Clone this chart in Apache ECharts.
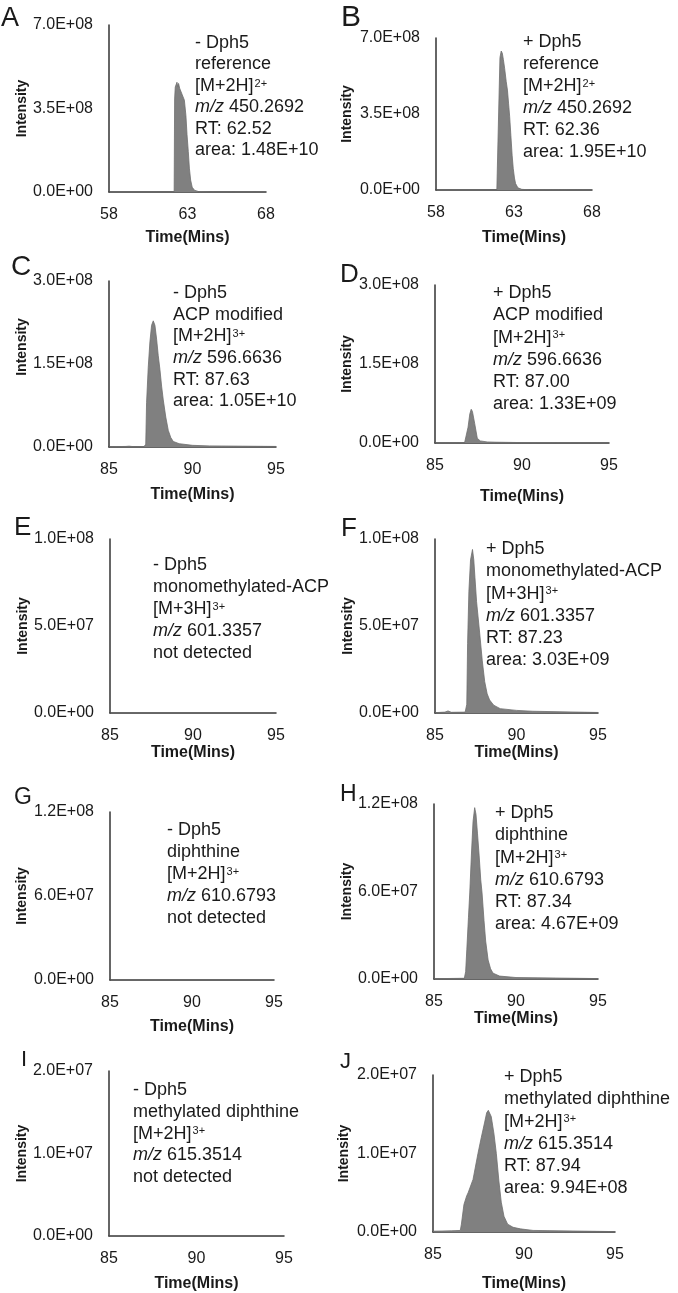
<!DOCTYPE html>
<html>
<head>
<meta charset="utf-8">
<script src="https://cdn.jsdelivr.net/npm/echarts@6/dist/echarts.min.js"></script>
<style>
html,body{margin:0;padding:0;background:#fff;}
#chart{width:678px;height:1293px;}
</style>
</head>
<body>
<div id="chart"></div>
<script>
// ---------------- DATA ----------------
const panelLetters = ['A','B','C','D','E','F','G','H','I','J'];
const xMin = [58,58,85,85,85,85,85,85,85,85];
const xMax = [68,68,95,95,95,95,95,95,95,95];
const xTickStep = 5;
const yMax = [7e8,7e8,3e8,3e8,1e8,1e8,1.2e8,1.2e8,2e7,2e7];
const yTickLabels = [
  ['0.0E+00','3.5E+08','7.0E+08'],
  ['0.0E+00','3.5E+08','7.0E+08'],
  ['0.0E+00','1.5E+08','3.0E+08'],
  ['0.0E+00','1.5E+08','3.0E+08'],
  ['0.0E+00','5.0E+07','1.0E+08'],
  ['0.0E+00','5.0E+07','1.0E+08'],
  ['0.0E+00','6.0E+07','1.2E+08'],
  ['0.0E+00','6.0E+07','1.2E+08'],
  ['0.0E+00','1.0E+07','2.0E+07'],
  ['0.0E+00','1.0E+07','2.0E+07']
];
const xTitle = 'Time(Mins)';
const yTitle = 'Intensity';

// A: - Dph5 reference
const timeA = [58,62.0,62.15,62.18,62.22,62.28,62.33,62.38,62.43,62.5,62.58,62.65,62.72,62.8,62.9,62.97,63.05,63.12,63.2,63.3,63.45,63.7,64.5,68];
const intA  = [0.002e8,0.003e8,0.02e8,3.9e8,4.4e8,4.45e8,4.6e8,4.4e8,4.55e8,4.35e8,4.3e8,4.1e8,4.05e8,3.85e8,3.2e8,2.4e8,1.7e8,1.0e8,0.5e8,0.2e8,0.07e8,0.02e8,0.005e8,0.002e8];
// B: + Dph5 reference
const timeB = [58,61.9,62.0,62.05,62.1,62.18,62.25,62.32,62.4,62.5,62.58,62.65,62.72,62.8,62.88,62.95,63.03,63.1,63.25,63.5,64.0,68];
const intB  = [0.002e8,0.003e8,0.03e8,4.6e8,6.1e8,6.4e8,6.3e8,6.0e8,5.6e8,5.0e8,4.6e8,4.0e8,3.4e8,2.5e8,1.6e8,1.0e8,0.55e8,0.3e8,0.1e8,0.03e8,0.008e8,0.002e8];
// C: - Dph5 ACP modified
const timeC = [85,86.0,86.2,86.5,87.1,87.2,87.25,87.35,87.45,87.55,87.65,87.75,87.85,87.95,88.05,88.15,88.25,88.4,88.55,88.7,88.85,89.2,90,91,93,95];
const intC  = [0.005e8,0.01e8,0.015e8,0.005e8,0.008e8,0.05e8,0.8e8,1.44e8,1.9e8,2.2e8,2.28e8,2.2e8,1.95e8,1.65e8,1.4e8,1.1e8,0.85e8,0.54e8,0.3e8,0.17e8,0.1e8,0.06e8,0.03e8,0.02e8,0.015e8,0.01e8];
// D: + Dph5 ACP modified
const timeD = [85,86.7,86.8,86.9,87.0,87.08,87.15,87.28,87.43,87.6,88.0,88.5,90,95];
const intD  = [0.003e8,0.005e8,0.03e8,0.3e8,0.55e8,0.64e8,0.6e8,0.37e8,0.09e8,0.04e8,0.02e8,0.015e8,0.008e8,0.003e8];
// E: - Dph5 monomethylated-ACP (not detected)
const timeE = [85,95];
const intE  = [0,0];
// F: + Dph5 monomethylated-ACP
const timeF = [85,85.6,85.8,86.0,86.85,86.95,87.0,87.08,87.18,87.3,87.38,87.45,87.55,87.74,87.9,88.05,88.2,88.35,88.6,89.0,90,91,95];
const intF  = [0.002e8,0.005e8,0.012e8,0.004e8,0.005e8,0.05e8,0.4e8,0.7e8,0.88e8,0.94e8,0.88e8,0.78e8,0.64e8,0.46e8,0.3e8,0.18e8,0.11e8,0.075e8,0.045e8,0.025e8,0.015e8,0.01e8,0.003e8];
// G: - Dph5 diphthine (not detected)
const timeG = [85,95];
const intG  = [0,0];
// H: + Dph5 diphthine
const timeH = [85,86.85,86.93,87.0,87.1,87.18,87.28,87.38,87.48,87.56,87.65,87.75,87.85,87.93,88.05,88.15,88.3,88.45,88.6,89.0,90,95];
const intH  = [0.002e8,0.005e8,0.05e8,0.2e8,0.42e8,0.59e8,0.85e8,1.08e8,1.175e8,1.13e8,1.0e8,0.85e8,0.68e8,0.59e8,0.4e8,0.26e8,0.13e8,0.07e8,0.04e8,0.02e8,0.01e8,0.003e8];
// I: - Dph5 methylated diphthine (not detected)
const timeI = [85,95];
const intI  = [0,0];
// J: + Dph5 methylated diphthine
const timeJ = [85,86.0,86.5,86.56,86.7,86.85,86.93,87.2,87.47,87.65,87.84,87.95,88.04,88.2,88.35,88.48,88.62,88.75,88.9,89.1,89.4,89.8,90.5,95];
const intJ  = [0.01e7,0.015e7,0.02e7,0.1e7,0.35e7,0.46e7,0.5e7,0.67e7,1.0e7,1.2e7,1.4e7,1.52e7,1.55e7,1.47e7,1.25e7,1.0e7,0.65e7,0.38e7,0.2e7,0.1e7,0.06e7,0.04e7,0.02e7,0.005e7];

const panelTimes = [timeA,timeB,timeC,timeD,timeE,timeF,timeG,timeH,timeI,timeJ];
const panelInts  = [intA,intB,intC,intD,intE,intF,intG,intH,intI,intJ];

const annotations = [
  ['- Dph5','reference','[M+2H]{sup|2+}','{it|m/z} 450.2692','RT: 62.52','area: 1.48E+10'],
  ['+ Dph5','reference','[M+2H]{sup|2+}','{it|m/z} 450.2692','RT: 62.36','area: 1.95E+10'],
  ['- Dph5','ACP modified','[M+2H]{sup|3+}','{it|m/z} 596.6636','RT: 87.63','area: 1.05E+10'],
  ['+ Dph5','ACP modified','[M+2H]{sup|3+}','{it|m/z} 596.6636','RT: 87.00','area: 1.33E+09'],
  ['- Dph5','monomethylated-ACP','[M+3H]{sup|3+}','{it|m/z} 601.3357','not detected'],
  ['+ Dph5','monomethylated-ACP','[M+3H]{sup|3+}','{it|m/z} 601.3357','RT: 87.23','area: 3.03E+09'],
  ['- Dph5','diphthine','[M+2H]{sup|3+}','{it|m/z} 610.6793','not detected'],
  ['+ Dph5','diphthine','[M+2H]{sup|3+}','{it|m/z} 610.6793','RT: 87.34','area: 4.67E+09'],
  ['- Dph5','methylated diphthine','[M+2H]{sup|3+}','{it|m/z} 615.3514','not detected'],
  ['+ Dph5','methylated diphthine','[M+2H]{sup|3+}','{it|m/z} 615.3514','RT: 87.94','area: 9.94E+08']
];

// ---------------- LAYOUT ----------------
const FONT = "'Liberation Sans', Arial, Helvetica, sans-serif";
const TEXT = '#1a1a1a';
const AXIS = '#333333';
// grid: [left, top, width, height]
const gridBoxes = [
  [109,25,157,167],[436,38,156,152],
  [109,281,167,166],[435,285,174,158],
  [110,539,166,174],[435,539,163,174],
  [110,812,164,168],[434,804,164,175],
  [109,1071,175,166],[433,1075,182,158]
];
const xNameGap = [38,40,40,46,32,32,39,31,40,44];
const xNamePad = [0,20,0,0,0,0,0,0,0,0];
const yNameGap = [80,82,76,81,80,80,81,80,80,82];
const yNamePad = [0,0,34,0,0,0,0,0,0,0];
// letters: [x, yCenter, size]
const letterPos = [[1,19,27],[341,18,30],[11,267,28],[340,275,26],[14,528,26],[341,529,26],[14,798,23],[340,795,23],[21,1060,22],[340,1062,22]];
// annotations: [x, firstLineCenter, lineHeight]
const annoPos = [[195,43,21.4],[523,42,22],[173,293,21.7],[493,293,22.3],[153,565,22.1],[486,549,22.3],[167,830,22.1],[495,813,22.3],[133,1090,21.8],[504,1077,22.3]];

const grids=[], xAxes=[], yAxes=[], series=[], graphics=[];
for (let i=0;i<10;i++){
  const g = gridBoxes[i];
  grids.push({left:g[0], top:g[1], width:g[2], height:g[3], containLabel:false});
  xAxes.push({
    type:'value', gridIndex:i, min:xMin[i], max:xMax[i], interval:xTickStep,
    axisLine:{show:true, onZero:false, lineStyle:{color:AXIS, width:1.5}},
    axisTick:{show:false}, splitLine:{show:false},
    axisLabel:{fontSize:16, color:TEXT, fontFamily:FONT, margin:15, showMinLabel:true, showMaxLabel:true},
    name:xTitle, nameLocation:'middle', nameGap:xNameGap[i],
    nameTextStyle:{fontSize:16, fontWeight:'bold', color:TEXT, fontFamily:FONT, padding:[0,0,0,xNamePad[i]]}
  });
  const ticks = yTickLabels[i];
  const step = yMax[i]/2;
  yAxes.push({
    type:'value', gridIndex:i, min:0, max:yMax[i], interval:step,
    axisLine:{show:true, lineStyle:{color:AXIS, width:1.5}},
    axisTick:{show:false}, splitLine:{show:false},
    axisLabel:{fontSize:16, color:TEXT, fontFamily:FONT, margin:16,
      formatter:(v)=>ticks[Math.round(v/step)]},
    name:yTitle, nameLocation:'middle', nameGap:yNameGap[i], nameRotate:90,
    nameTextStyle:{fontSize:14, fontWeight:'bold', color:TEXT, fontFamily:FONT, padding:[0,0,0,yNamePad[i]]}
  });
  const t = panelTimes[i], v = panelInts[i];
  series.push({
    type:'line', xAxisIndex:i, yAxisIndex:i,
    data:t.map((x,k)=>[x,v[k]]),
    symbol:'none', smooth:false, silent:true,
    lineStyle:{color:'#6e6e6e', width:0.8},
    areaStyle:{color:'#808080', opacity:1}
  });
  const lp = letterPos[i];
  graphics.push({type:'text', x:lp[0], y:lp[1],
    style:{text:panelLetters[i], fontSize:lp[2], fontFamily:FONT, fill:TEXT, verticalAlign:'middle', align:'left'}});
  const ap = annoPos[i];
  graphics.push({type:'text', x:ap[0], y:ap[1]-ap[2]/2,
    style:{
      text:annotations[i].join('\n'),
      fontSize:18, fontFamily:FONT, fill:TEXT, lineHeight:ap[2],
      align:'left', verticalAlign:'top',
      rich:{
        sup:{fontSize:11, lineHeight:11, verticalAlign:'top', padding:[3,0,0,1], fontFamily:FONT, fill:TEXT},
        it:{fontSize:18, fontStyle:'italic', fontFamily:FONT, fill:TEXT, lineHeight:ap[2]}
      }
    }});
}

const chart = echarts.init(document.getElementById('chart'), null, {renderer:'canvas'});
chart.setOption({
  animation:false,
  backgroundColor:'#ffffff',
  grid:grids, xAxis:xAxes, yAxis:yAxes, series:series,
  graphic:graphics
});
</script>
</body>
</html>
